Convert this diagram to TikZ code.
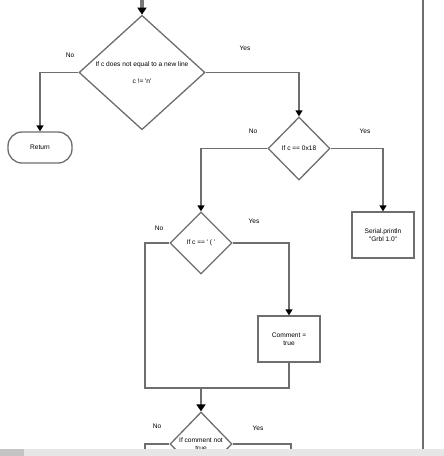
\documentclass[tikz,border=0pt]{standalone}
\usepackage{fontspec}
\setmainfont{Liberation Sans}[Ligatures=TeXOff]
\usetikzlibrary{shapes.geometric,arrows.meta}
\definecolor{linegray}{HTML}{6E6E6E}
\definecolor{thickgray}{HTML}{7A7A7A}
\definecolor{stripgray}{HTML}{E6E6E6}
\definecolor{stripdark}{HTML}{C4C4C4}
\begin{document}
\begin{tikzpicture}[x=1pt,y=-1pt,
  font=\fontsize{6.6}{7.8}\selectfont,
  ln/.style={draw=linegray,line width=1.3pt},
  arr/.style={ln,-{Triangle[width=7pt,length=6pt,color=black]}},
  thickarr/.style={draw=thickgray,line width=4pt,-{Triangle[width=9pt,length=7pt,color=black]}},
  dec/.style={diamond,draw=linegray,line width=1.3pt,fill=white,inner sep=0pt,align=center},
  proc/.style={rectangle,draw=linegray,line width=1.3pt,fill=white,align=center,inner sep=0pt},
  lbl/.style={inner sep=0pt}]
\useasboundingbox (0,0) rectangle (444,456);
\clip (0,0) rectangle (444,456);
\fill[white] (0,0) rectangle (444,456);

% decisions
\node[dec,minimum width=126pt,minimum height=105pt] (d1) at (142,72.5)
  {If c does not equal to a new line\\[9pt]c != 'n'};
\node[dec,minimum width=62pt,minimum height=63pt] (d2) at (299,148.5) {If c == 0x18};
\node[dec,minimum width=62pt,minimum height=62pt] (d3) at (201,243) {If c == ' ( '};
\node[dec,minimum width=62pt,minimum height=64pt] (d4) at (201,444) {If comment not\\true};

% terminals and processes
\node[proc,rounded corners=14pt,minimum width=64pt,minimum height=31pt] (ret) at (40,147.5) {Return};
\node[proc,minimum width=62pt,minimum height=46pt] (ser) at (383,235) {Serial.println\\"Grbl 1.0"};
\node[proc,minimum width=62pt,minimum height=46pt] (com) at (289,339) {Comment =\\true};

% labels
\node[lbl] (n1) at (70,55) {No};
\node[lbl] (y1) at (245,48) {Yes};
\node[lbl] (n2) at (253,131) {No};
\node[lbl] (y2) at (365,131) {Yes};
\node[lbl] (n3) at (159,228) {No};
\node[lbl] (y3) at (254,221) {Yes};
\node[lbl] (n4) at (157,426) {No};
\node[lbl] (y4) at (258,428) {Yes};

% coordinates
\coordinate (top) at (142,0);
\coordinate (j) at (201,388);
\coordinate (jl) at (145,388);
\coordinate (bl) at (145,470);
\coordinate (br) at (291,470);
\coordinate (v1) at (423,0);
\coordinate (v2) at (423,449);

% connectors
\draw[thickarr] (top) -- (d1.north);
\draw[arr] (d1.west) -| (ret.north);
\draw[arr] (d1.east) -| (d2.north);
\draw[arr] (d2.east) -| (ser.north);
\draw[arr] (d2.west) -| (d3.north);
\draw[arr] (d3.east) -| (com.north);
\draw[ln] (d3.west) -| (jl) -- (j);
\draw[ln] (com.south) |- (j);
\draw[thickarr,draw=linegray,line width=2pt] (j) -- (d4.north);
\draw[ln] (d4.west) -| (bl);
\draw[ln] (d4.east) -| (br);
\draw[draw=linegray,line width=2pt] (v1) -- (v2);

% bottom strip
\fill[stripgray] (0,449) rectangle (444,456);
\fill[stripdark] (0,449) rectangle (24,456);
\end{tikzpicture}
\end{document}
